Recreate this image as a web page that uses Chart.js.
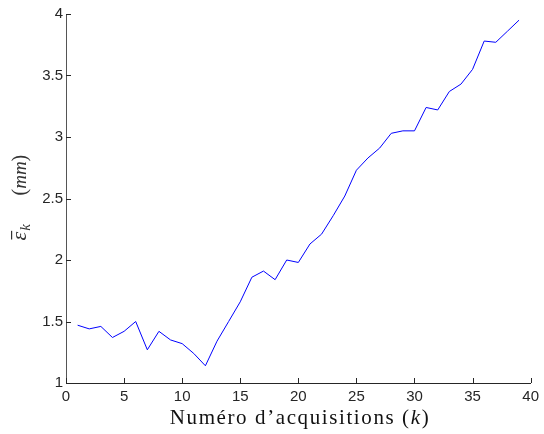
<!DOCTYPE html>
<html>
<head>
<meta charset="utf-8">
<script src="https://cdn.jsdelivr.net/npm/chart.js@4"></script>
<style>
  html, body { margin: 0; padding: 0; background: #fff; }
  #wrap { width: 544px; height: 434px; }
</style>
</head>
<body>
<div id="wrap"><canvas id="myChart" width="544" height="434"></canvas></div>
<script>
var acquisitions = [1,2,3,4,5,6,7,8,9,10,11,12,13,14,15,16,17,18,19,20,
  21,22,23,24,25,26,27,28,29,30,31,32,33,34,35,36,37,38,39];
var errorMm = [1.47,1.44,1.46,1.37,1.42,1.50,1.27,1.42,1.35,1.32,
  1.24,1.14,1.34,1.50,1.66,1.86,1.91,1.84,2.00,1.98,
  2.13,2.21,2.36,2.52,2.73,2.83,2.91,3.03,3.05,3.05,
  3.24,3.22,3.37,3.43,3.55,3.78,3.77,3.86,3.95];
var xTicks = [0,5,10,15,20,25,30,35,40];
var yTicks = [1,1.5,2,2.5,3,3.5,4];

var axisColor = "#262626";

// draws a string char by char with some extra spacing (latex fonts are wide)
function spacedText(c, str, x, y, gap) {
  for (var i = 0; i < str.length; i++) {
    c.fillText(str[i], x, y);
    x += c.measureText(str[i]).width + gap;
  }
  return x;
}
function spacedWidth(c, str, gap) {
  var w = 0;
  for (var i = 0; i < str.length; i++) w += c.measureText(str[i]).width + gap;
  return w;
}

// matlab style: ticks point inside the axes, and the axis titles are drawn by hand
var extras = {
  id: "extras",
  afterDraw: function (chart) {
    var c = chart.ctx;
    var xs = chart.scales.x, ys = chart.scales.y;
    var area = chart.chartArea;
    c.save();
    c.strokeStyle = axisColor;
    c.lineWidth = 1;
    c.beginPath();
    xTicks.forEach(function (v) {
      var px = Math.round(xs.getPixelForValue(v)) + 0.5;
      c.moveTo(px, area.bottom);
      c.lineTo(px, area.bottom - 5);
    });
    yTicks.forEach(function (v) {
      var py = Math.round(ys.getPixelForValue(v)) + 0.5;
      c.moveTo(area.left, py);
      c.lineTo(area.left + 5, py);
    });
    c.stroke();

    // x title
    c.fillStyle = "#111";
    c.textBaseline = "alphabetic";
    var gap = 1.6;
    var f1 = "21px 'Liberation Serif'";
    var f2 = "italic 21px 'Liberation Serif'";
    var parts = [["Numéro d’acquisitions (", f1], ["k", f2], [")", f1]];
    var total = 0;
    parts.forEach(function (p) { c.font = p[1]; total += spacedWidth(c, p[0], gap); });
    var x = 300 - total / 2;
    parts.forEach(function (p) {
      c.font = p[1];
      x = spacedText(c, p[0], x, 424, gap);
    });

    // y title, rotated
    var cy = (area.top + area.bottom) / 2;
    c.translate(26, cy);
    c.rotate(-Math.PI / 2);
    c.fillStyle = "#333";
    c.font = "italic 22px 'Liberation Serif'";
    var ew = c.measureText("ε").width;
    c.fillText("ε", -42, 0);
    c.fillRect(-41, -15, ew, 1.2);
    c.font = "italic 15px 'Liberation Serif'";
    c.fillText("k", -42 + ew + 1, 4);
    c.font = "20px 'Liberation Serif'";
    x = c.measureText("(").width;
    c.fillText("(", 3, 0);
    c.font = "italic 19px 'Liberation Serif'";
    c.fillText("mm", 3 + x, 0);
    x += c.measureText("mm").width;
    c.font = "20px 'Liberation Serif'";
    c.fillText(")", 3 + x, 0);
    c.restore();
  }
};

var ctx = document.getElementById("myChart");
var myChart = new Chart(ctx, {
  type: "line",
  data: {
    datasets: [{
      data: acquisitions.map(function (k, i) { return { x: k, y: errorMm[i] }; }),
      borderColor: "#0000ff",
      borderWidth: 1,
      pointRadius: 0,
      tension: 0,
      fill: false
    }]
  },
  options: {
    responsive: false,
    animation: false,
    layout: { padding: { top: 14, right: 8, left: 0, bottom: 0 } },
    plugins: { legend: { display: false }, tooltip: { enabled: false } },
    scales: {
      x: {
        type: "linear",
        min: 0,
        max: 40,
        afterFit: function (s) { s.height = 51; },
        afterBuildTicks: function (s) { s.ticks = xTicks.map(function (v) { return { value: v }; }); },
        border: { color: axisColor, width: 1 },
        grid: { drawOnChartArea: false, drawTicks: false },
        ticks: { color: axisColor, padding: 5, maxRotation: 0,
                 callback: function (v) { return String(v); },
                 font: { family: "'Liberation Sans'", size: 15 } }
      },
      y: {
        type: "linear",
        min: 1,
        max: 4,
        afterFit: function (s) { s.width = 66; },
        afterBuildTicks: function (s) { s.ticks = yTicks.map(function (v) { return { value: v }; }); },
        border: { color: "#555", width: 1 },
        grid: { drawOnChartArea: false, drawTicks: false },
        ticks: { color: axisColor, padding: 3,
                 callback: function (v) { return String(v); },
                 font: { family: "'Liberation Sans'", size: 15 } }
      }
    }
  },
  plugins: [extras]
});
</script>
</body>
</html>
